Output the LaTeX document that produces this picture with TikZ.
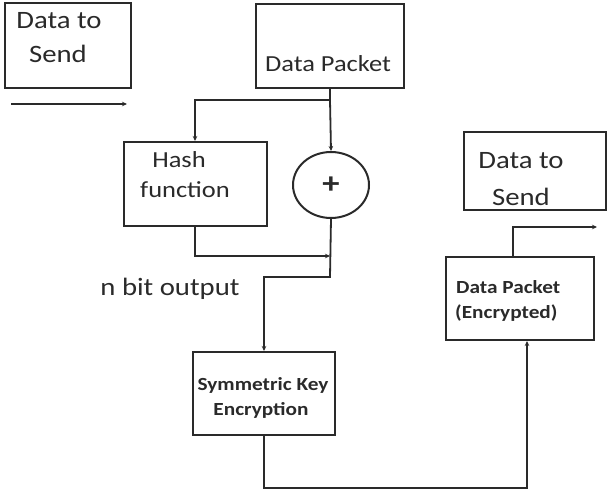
\documentclass[tikz,border=0pt]{standalone}
\usepackage{fontspec}
\setmainfont{Carlito}[FakeStretch=1.15]
\usetikzlibrary{arrows.meta,calc,shapes.geometric}
\definecolor{ink}{HTML}{2A2A2A}
\begin{document}
\begin{tikzpicture}[x=1pt,y=-1pt,
  box/.style={draw=ink,line width=2pt,minimum width=#1,inner sep=0pt},
  flow/.style={draw=ink,line width=1.8pt,-{Stealth[length=5pt,width=4.5pt]}},
  wire/.style={draw=ink,line width=1.8pt},
  lbl/.style={text=ink,anchor=base,inner sep=0pt},
  big/.style={font=\fontsize{25}{34}\selectfont},
  mid/.style={font=\fontsize{23}{30}\selectfont},
  small/.style={font=\bfseries\fontsize{18.5}{25}\selectfont}]
\useasboundingbox (0,0) rectangle (608,495);

% boxes
\node[box=126pt,minimum height=85pt] (dts1) at (68,45.5) {};
\node[box=148pt,minimum height=84pt] (dp) at (330,46) {};
\node[box=143pt,minimum height=84pt] (hash) at (195,184) {};
\node[draw=ink,line width=2pt,ellipse,minimum width=76pt,minimum height=66pt,inner sep=0pt] (xor) at (331,185) {};
\node[box=142pt,minimum height=83pt] (sym) at (264,393.5) {};
\node[box=148pt,minimum height=83pt] (enc) at (520,298.5) {};
\node[box=142pt,minimum height=78pt] (dts2) at (535,171) {};

% texts
\node[lbl,big] (t1a) at (59,29) {Data to};
\node[lbl,big] (t1b) at (58,63) {Send};
\node[lbl,mid] (t2) at (328,72) {Data Packet};
\node[lbl,mid] (t3a) at (179,167) {Hash};
\node[lbl,mid] (t3b) at (185,197) {function};
\node[lbl,font=\bfseries\fontsize{30}{30}\selectfont] (t4) at (331,193) {+};
\node[lbl,font=\fontsize{25}{25}\selectfont] (t5) at (170,295) {n bit output};
\node[lbl,small] (t6a) at (263,390) {Symmetric Key};
\node[lbl,small] (t6b) at (261,415) {Encryption};
\node[lbl,small,anchor=base west] (t7a) at (456,293) {Data Packet};
\node[lbl,small,anchor=base west] (t7b) at (455,318) {(Encrypted)};
\node[lbl,big] (t8a) at (521,168) {Data to};
\node[lbl,big] (t8b) at (521,205) {Send};

% connectors
\coordinate (split) at (330,100);
\coordinate (sendA) at (11,104);
\coordinate (sendB) at (127,104);
\coordinate (join) at (330,256);
\coordinate (out) at (597,227);

\draw[flow] (sendA) -- (sendB);
\draw[wire] (dp.south) -- (split);
\draw[flow] (split) -| (hash.north);
\draw[flow] (split) -- (xor.north);
\draw[flow] (hash.south) |- (join);
\draw[flow] (xor.south) -- (330,277) -| (sym.north);
\draw[flow] (sym.south) -- (264,488) -| ($(enc.south)+(7,0)$);
\draw[flow] ($(enc.north)+(-7,0)$) |- (out);
\end{tikzpicture}
\end{document}
